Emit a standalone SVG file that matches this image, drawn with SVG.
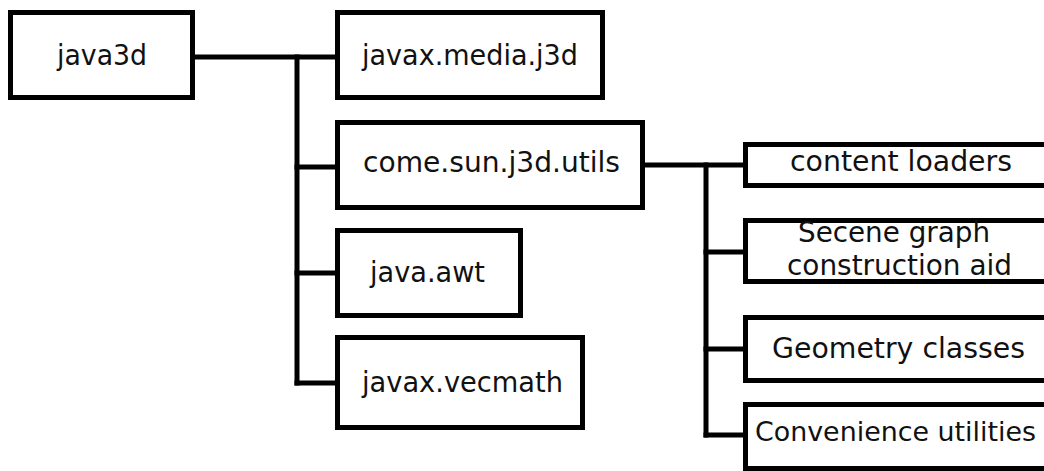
<svg xmlns="http://www.w3.org/2000/svg" width="1044" height="471" viewBox="0 0 1044 471">
  <style>
    .box { fill: #ffffff; stroke: #000000; stroke-width: 5; }
    .wire { fill: none; stroke: #000000; stroke-width: 5; stroke-linecap: square; }
    .lbl { font-family: "DejaVu Sans", "Liberation Sans", sans-serif; font-size: 28px; fill: #111111; text-anchor: start; }
    .narrow { font-size: 27px; }
  </style>
  <rect width="1044" height="471" fill="#ffffff"/>

  <!-- package tree connectors -->
  <g id="connectors">
    <path class="wire" d="M196 57 H335"/>
    <path class="wire" d="M297 57 V383"/>
    <path class="wire" d="M297 167 H335"/>
    <path class="wire" d="M297 273 H335"/>
    <path class="wire" d="M297 383 H335"/>
    <path class="wire" d="M645 165 H743"/>
    <path class="wire" d="M706 165 V435"/>
    <path class="wire" d="M706 252 H743"/>
    <path class="wire" d="M706 349 H743"/>
    <path class="wire" d="M706 435 H743"/>
  </g>

  <g id="java3d">
    <rect class="box" x="10.5" y="12.5" width="182" height="85"/>
    <text class="lbl" x="57" y="65" textLength="90" lengthAdjust="spacingAndGlyphs">java3d</text>
  </g>
  <g id="javax-media-j3d">
    <rect class="box" x="337.5" y="12.5" width="265" height="85"/>
    <text class="lbl" x="362" y="65" textLength="216" lengthAdjust="spacingAndGlyphs">javax.media.j3d</text>
  </g>
  <g id="come-sun-j3d-utils">
    <rect class="box" x="337.5" y="122.5" width="305" height="85"/>
    <text class="lbl" x="363" y="172" textLength="257" lengthAdjust="spacingAndGlyphs">come.sun.j3d.utils</text>
  </g>
  <g id="java-awt">
    <rect class="box" x="337.5" y="230.5" width="183" height="85"/>
    <text class="lbl" x="370" y="282" textLength="115" lengthAdjust="spacingAndGlyphs">java.awt</text>
  </g>
  <g id="javax-vecmath">
    <rect class="box" x="337.5" y="337.5" width="245" height="90"/>
    <text class="lbl" x="362" y="392" textLength="201" lengthAdjust="spacingAndGlyphs">javax.vecmath</text>
  </g>

  <g id="content-loaders">
    <rect class="box" x="745.5" y="144.5" width="310" height="41"/>
    <text class="lbl" x="790" y="171" textLength="222" lengthAdjust="spacingAndGlyphs">content loaders</text>
  </g>
  <g id="scene-graph-aid">
    <rect class="box" x="745.5" y="220.5" width="310" height="61"/>
    <text class="lbl" x="798" y="242" textLength="192" lengthAdjust="spacingAndGlyphs">Secene graph</text>
    <text class="lbl" x="787" y="275" textLength="225" lengthAdjust="spacingAndGlyphs">construction aid</text>
  </g>
  <g id="geometry-classes">
    <rect class="box" x="745.5" y="317.5" width="310" height="63"/>
    <text class="lbl" x="772" y="358" textLength="253" lengthAdjust="spacingAndGlyphs">Geometry classes</text>
  </g>
  <g id="convenience-utilities">
    <rect class="box" x="745.5" y="404.5" width="310" height="64"/>
    <text class="lbl narrow" x="755" y="441" textLength="281" lengthAdjust="spacingAndGlyphs">Convenience utilities</text>
  </g>
</svg>
